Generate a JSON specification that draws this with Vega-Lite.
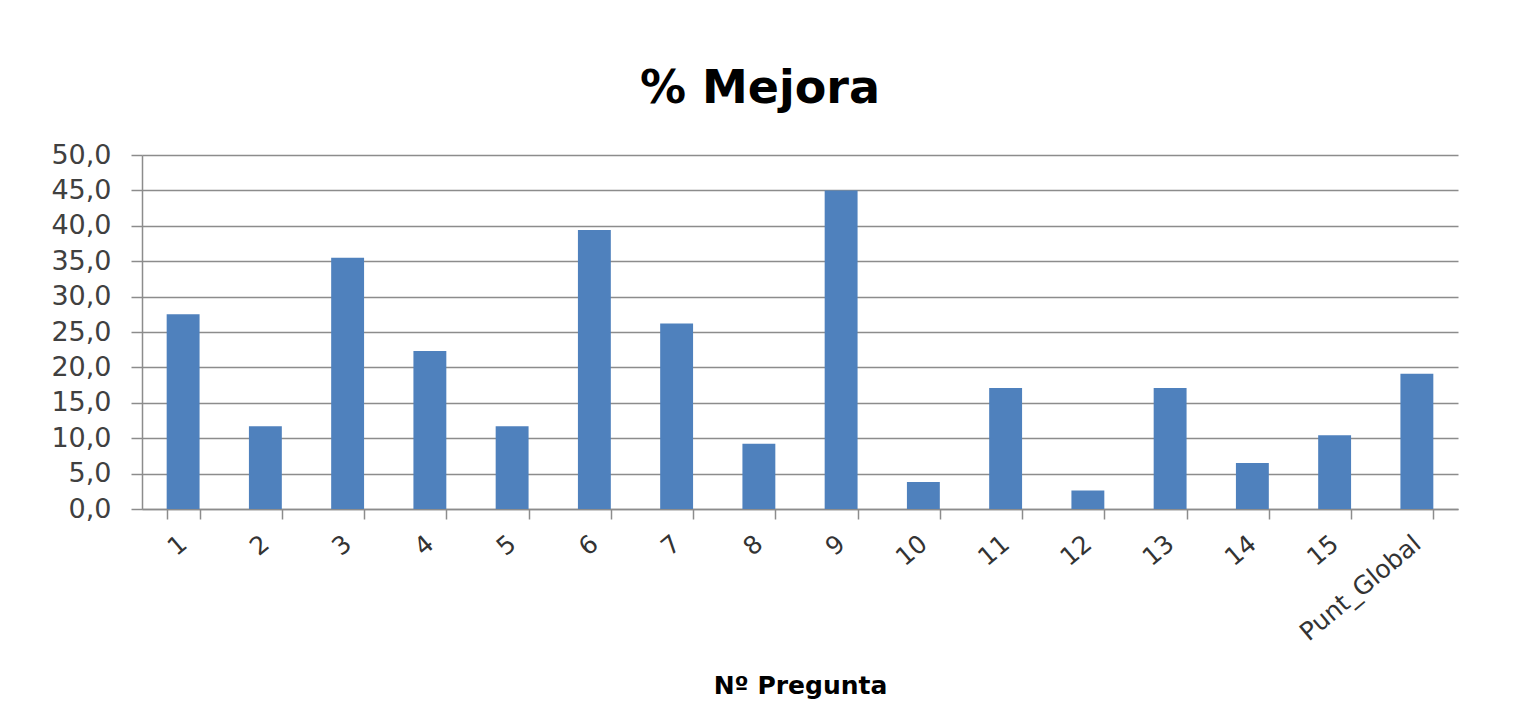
{
  "$schema": "https://vega.github.io/schema/vega-lite/v6.json",
  "autosize": {"type": "none"},
  "width": 1316,
  "height": 354,
  "padding": {"left": 142, "top": 155, "right": 58, "bottom": 201},
  "background": "#ffffff",
  "title": {
    "text": "% Mejora",
    "font": "DejaVu Sans",
    "fontSize": 46,
    "fontWeight": "bold",
    "color": "#000000",
    "anchor": "middle",
    "dx": -40,
    "offset": 28
  },
  "data": {
    "values": [
      {"pregunta": "1", "mejora": 27.5},
      {"pregunta": "2", "mejora": 11.7},
      {"pregunta": "3", "mejora": 35.5},
      {"pregunta": "4", "mejora": 22.3},
      {"pregunta": "5", "mejora": 11.7},
      {"pregunta": "6", "mejora": 39.4},
      {"pregunta": "7", "mejora": 26.2},
      {"pregunta": "8", "mejora": 9.2},
      {"pregunta": "9", "mejora": 45.0},
      {"pregunta": "10", "mejora": 3.8},
      {"pregunta": "11", "mejora": 17.1},
      {"pregunta": "12", "mejora": 2.6},
      {"pregunta": "13", "mejora": 17.1},
      {"pregunta": "14", "mejora": 6.5},
      {"pregunta": "15", "mejora": 10.4},
      {"pregunta": "Punt_Global", "mejora": 19.1}
    ]
  },
  "mark": {"type": "bar", "color": "#4f81bd"},
  "encoding": {
    "x": {
      "field": "pregunta",
      "type": "nominal",
      "sort": null,
      "scale": {"paddingInner": 0.6, "paddingOuter": 0.3},
      "axis": {
        "title": "Nº Pregunta",
        "titleFont": "DejaVu Sans",
        "titleFontSize": 25,
        "titleFontWeight": "bold",
        "titleColor": "#000000",
        "titlePadding": 28,
        "labelAngle": -40,
        "labelAlign": "right",
        "labelBaseline": "middle",
        "labelFont": "DejaVu Sans",
        "labelFontSize": 25,
        "labelColor": "#333333",
        "labelPadding": 21,
        "tickBand": "extent",
        "tickSize": 10,
        "tickColor": "#8c8c8c",
        "tickWidth": 1.5,
        "domainColor": "#8c8c8c",
        "domainWidth": 1.5,
        "grid": false
      }
    },
    "y": {
      "field": "mejora",
      "type": "quantitative",
      "scale": {"domain": [0, 50]},
      "axis": {
        "title": null,
        "values": [0, 5, 10, 15, 20, 25, 30, 35, 40, 45, 50],
        "labelExpr": "replace(format(datum.value, '.1f'), '.', ',')",
        "labelFont": "DejaVu Sans",
        "labelFontSize": 27,
        "labelColor": "#404040",
        "labelPadding": 20,
        "tickSize": 11,
        "tickColor": "#8c8c8c",
        "tickWidth": 1.5,
        "domainColor": "#8c8c8c",
        "domainWidth": 1.5,
        "grid": true,
        "gridColor": "#8c8c8c",
        "gridWidth": 1.5
      }
    }
  },
  "config": {"view": {"stroke": null}}
}
